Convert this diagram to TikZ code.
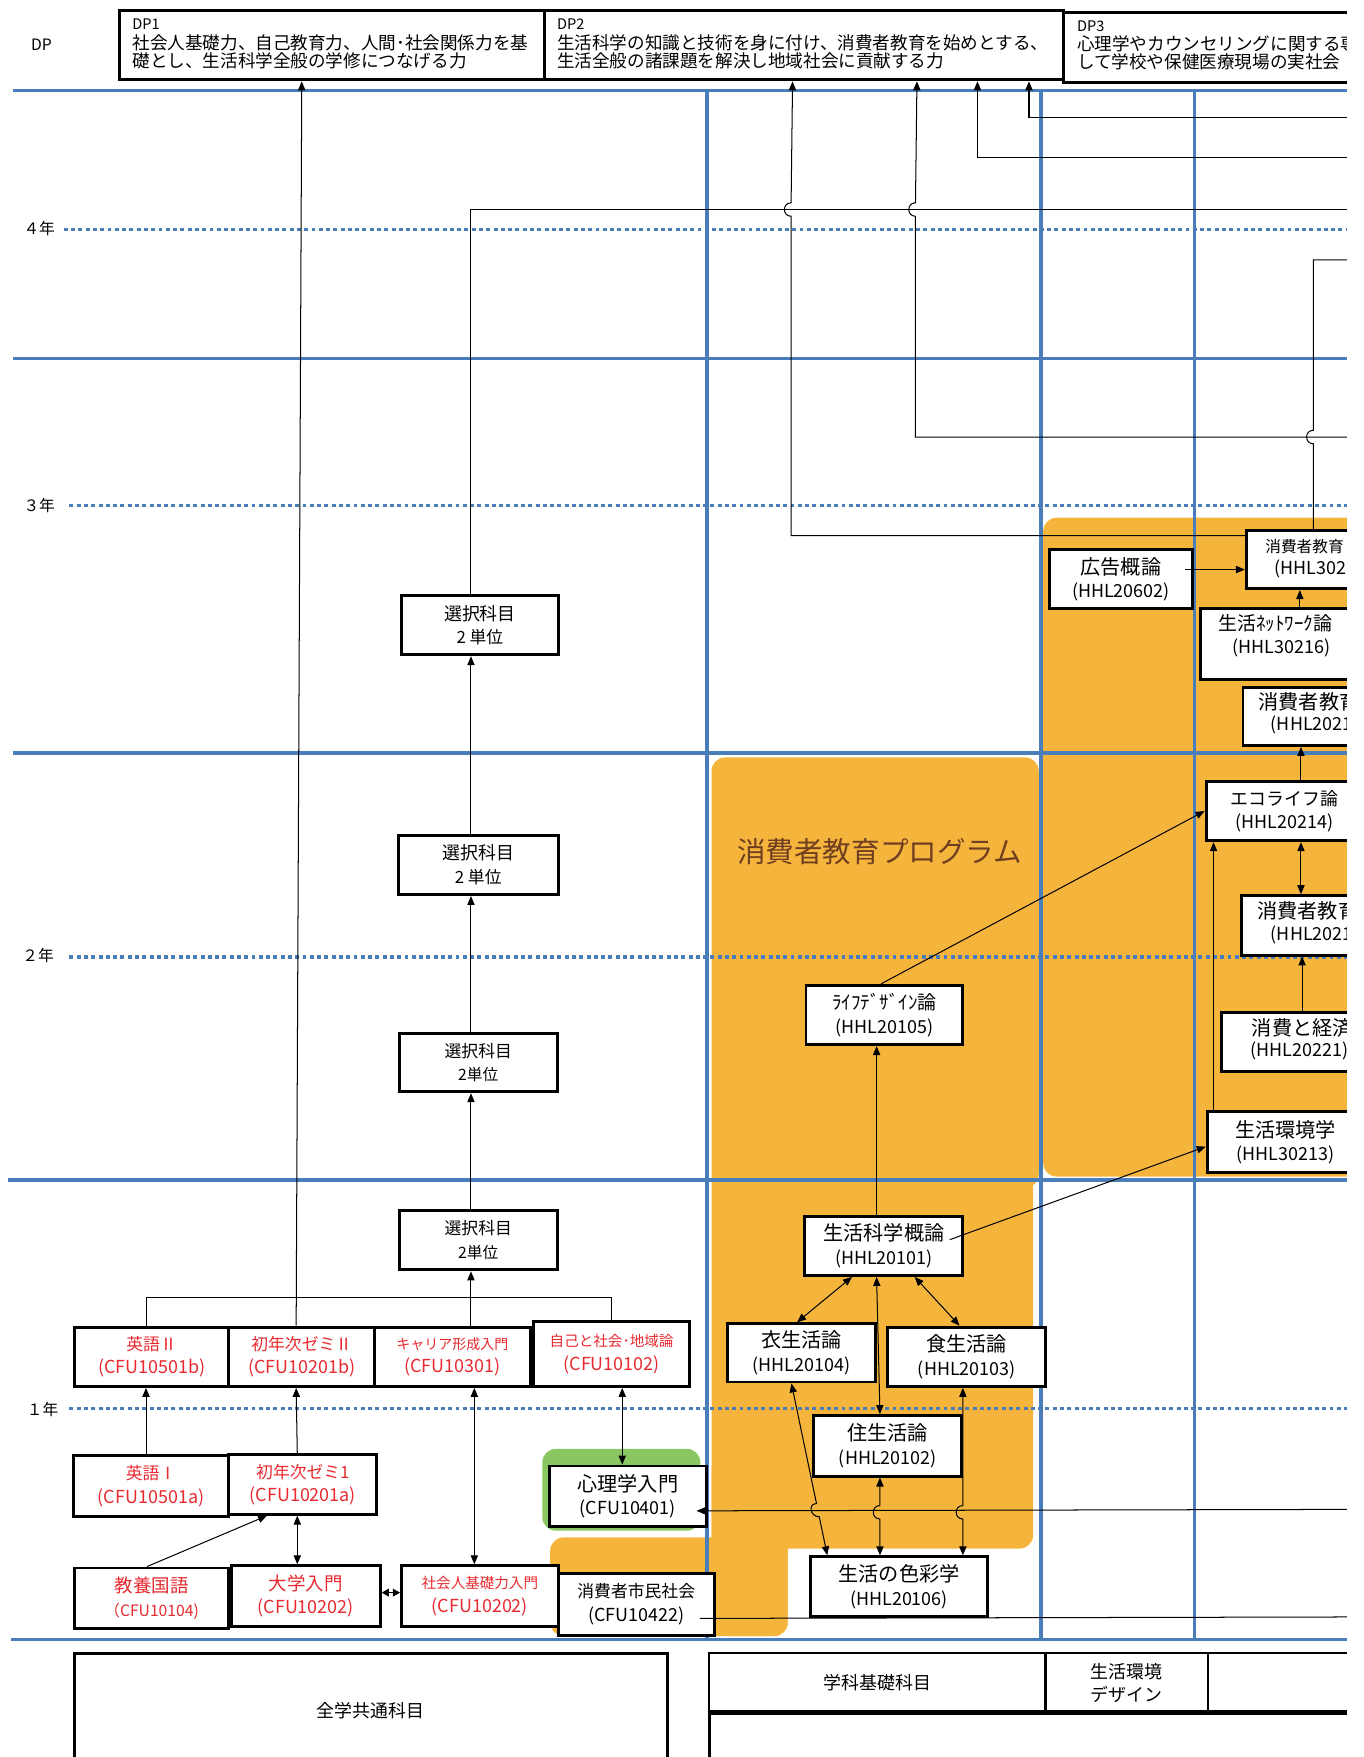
\documentclass[tikz,border=0pt]{standalone}
\usepackage{fontspec}
\setmainfont{Noto Sans CJK JP}
\usetikzlibrary{arrows.meta,calc}
\definecolor{gridblue}{RGB}{74,126,187}
\definecolor{progorange}{RGB}{245,181,61}
\definecolor{psygreen}{RGB}{138,199,98}
\definecolor{titlebrown}{RGB}{112,62,32}
\definecolor{cfured}{RGB}{232,42,48}
\newcommand{\twoline}[4]{{\fontsize{#1}{21}\selectfont #2}\\{\fontsize{#3}{21}\selectfont #4}}
\newcommand{\fsz}[1]{\fontsize{#1}{#1}\selectfont}
\begin{document}
\begin{tikzpicture}[x=1pt,y=-1pt,
  solidgrid/.style={gridblue,line width=3pt},
  dotgrid/.style={gridblue,line width=3pt,dash pattern=on 3.5pt off 3pt},
  course/.style={draw=black,line width=2.6pt,fill=white,inner sep=0pt,align=center,anchor=north west,font=\fontsize{17}{21}\selectfont},
  redc/.style={course,text=cfured},
  lbl/.style={inner sep=0pt,anchor=base west},
  conn/.style={black,line width=0.9pt},
  arr/.style={conn,-{Triangle[length=8pt,width=6.5pt]}},
  darr/.style={conn,{Triangle[length=8pt,width=6.5pt]}-{Triangle[length=8pt,width=6.5pt]}},
  shortdarr/.style={conn,{Triangle[length=6.5pt,width=7pt]}-{Triangle[length=6.5pt,width=7pt]}},
  jumparc/.style={out=180,in=180,looseness=1.7}
]
\useasboundingbox (0,0) rectangle (1217,1568);
\clip (0,0) rectangle (1202,1568);

% ---------- coloured areas ----------
\fill[progorange,rounded corners=12pt] (931,462) rectangle (1240,1050);
\fill[progorange,rounded corners=12pt] (635,676) rectangle (927,1060);
\fill[progorange,rounded corners=12pt] (635,1040) rectangle (922,1382);
\fill[progorange,rounded corners=12pt] (635,1300) rectangle (703,1460);
\fill[progorange,rounded corners=12pt] (491,1372) rectangle (703,1460);
\fill[psygreen,rounded corners=12pt] (484,1293) rectangle (625,1366);

\node[text=titlebrown,font=\fsz{25.5}] (progtitle) at (785,760) {消費者教育プログラム};

% ---------- grid ----------
\draw[solidgrid] (12,81) -- (1210,81);
\draw[solidgrid] (12,320) -- (1210,320);
\draw[solidgrid] (12,672) -- (1210,672);
\draw[solidgrid] (7,1053) -- (1210,1053);
\draw[solidgrid] (10,1463) -- (1210,1463);
\draw[dotgrid] (57,205) -- (1210,205);
\draw[dotgrid] (62,451) -- (1210,451);
\draw[dotgrid] (62,854) -- (1210,854);
\draw[dotgrid] (62,1257) -- (1210,1257);

\node[font=\fsz{14}] (dplabel) at (37,40) {DP};
\node[font=\fsz{14}] (y4) at (35,204) {４年};
\node[font=\fsz{14}] (y3) at (35,451) {３年};
\node[font=\fsz{14}] (y2) at (34,853) {２年};
\node[font=\fsz{14}] (y1) at (38,1258) {１年};

% ---------- DP boxes ----------
\node[course,minimum width=380,minimum height=62] (dp1) at (105,8) {};
\node[course,minimum width=463,minimum height=62] (dp2) at (485,8) {};
\node[course,minimum width=300,minimum height=62] (dp3) at (948,10) {};
\node[lbl,font=\fsz{13}] (dp1a) at (118,26) {DP1};
\node[lbl,font=\fsz{15.7}] (dp1b) at (118,44) {社会人基礎力、自己教育力、人間･社会関係力を基};
\node[lbl,font=\fsz{15.7}] (dp1c) at (118,60) {礎とし、生活科学全般の学修につなげる力};
\node[lbl,font=\fsz{13}] (dp2a) at (497,26) {DP2};
\node[lbl,font=\fsz{15.7}] (dp2b) at (497,44) {生活科学の知識と技術を身に付け、消費者教育を始めとする、};
\node[lbl,font=\fsz{15.7}] (dp2c) at (497,60) {生活全般の諸課題を解決し地域社会に貢献する力};
\node[lbl,font=\fsz{13}] (dp3a) at (961,28) {DP3};
\node[lbl,font=\fsz{15.7}] (dp3b) at (961,45) {心理学やカウンセリングに関する専};
\node[lbl,font=\fsz{15.7}] (dp3c) at (961,61) {して学校や保健医療現場の実社会};

% ---------- vertical grid ----------
\draw[solidgrid] (631,81) -- (631,1463);
\draw[solidgrid] (929,81) -- (929,1463);
\draw[solidgrid] (1066,81) -- (1066,1463);

% ---------- common courses ----------
\node[redc,minimum width=138,minimum height=53] (eigoB) at (65,1183) {\twoline{15}{英語Ⅱ}{16}{(CFU10501b)}};
\node[redc,minimum width=130,minimum height=53] (zemiB) at (203,1183) {\twoline{15}{初年次ゼミⅡ}{16}{(CFU10201b)}};
\node[redc,minimum width=139,minimum height=53] (career) at (333,1183) {\twoline{12.5}{キャリア形成入門}{16}{(CFU10301)}};
\node[redc,minimum width=139,minimum height=58] (jiko) at (475,1178) {\twoline{13}{自己と社会･地域論}{16}{(CFU10102)}};
\node[redc,minimum width=139,minimum height=54] (eigoA) at (64,1298) {\twoline{15}{英語Ⅰ}{16}{(CFU10501a)}};
\node[redc,minimum width=132,minimum height=53] (zemiA) at (203,1297) {\twoline{15}{初年次ゼミ1}{16}{(CFU10201a)}};
\node[redc,minimum width=138,minimum height=54] (kokugo) at (65,1398) {\twoline{16.5}{教養国語}{14}{（CFU10104)}};
\node[redc,minimum width=133,minimum height=54] (daigaku) at (205,1396) {\twoline{16.5}{大学入門}{16}{(CFU10202)}};
\node[redc,minimum width=140,minimum height=54] (shakai) at (357,1396) {\twoline{13}{社会人基礎力入門}{16}{(CFU10202)}};
\node[course,minimum width=140,minimum height=54] (shinri) at (489,1307) {\twoline{18}{心理学入門}{16}{(CFU10401)}};
\node[course,minimum width=139,minimum height=55] (shimin) at (497,1403) {\twoline{15}{消費者市民社会}{16}{(CFU10422)}};

% ---------- elective boxes ----------
\node[course,minimum width=140,minimum height=53] (s4) at (357,530) {\twoline{16}{選択科目}{15}{2 単位}};
\node[course,minimum width=143,minimum height=53] (s3) at (354,744) {\twoline{16}{選択科目}{15}{2 単位}};
\node[course,minimum width=141,minimum height=52] (s2) at (355,921) {\twoline{15}{選択科目}{14}{2単位}};
\node[course,minimum width=141,minimum height=53] (s1) at (355,1079) {\twoline{15}{選択科目}{14}{2単位}};

% ---------- department courses ----------
\node[course,minimum width=140,minimum height=53] (life) at (718,878) {\twoline{17}{ﾗｲﾌﾃﾞｻﾞｲﾝ論}{16}{(HHL20105)}};
\node[course,minimum width=141,minimum height=53] (gaikan) at (717,1084) {\twoline{18}{生活科学概論}{16}{(HHL20101)}};
\node[course,minimum width=132,minimum height=52] (koromo) at (648,1180) {\twoline{18}{衣生活論}{16}{(HHL20104)}};
\node[course,minimum width=141,minimum height=53] (shoku) at (791,1183) {\twoline{18}{食生活論}{16}{(HHL20103)}};
\node[course,minimum width=132,minimum height=54] (jyu) at (725,1262) {\twoline{18}{住生活論}{16}{(HHL20102)}};
\node[course,minimum width=158,minimum height=53] (shikisai) at (722,1388) {\twoline{18}{生活の色彩学}{16}{(HHL20106)}};

\node[course,minimum width=128,minimum height=53] (koukoku) at (935,489) {\twoline{18}{広告概論}{16}{(HHL20602)}};
\node[course,minimum width=150,minimum height=52] (kyoiku3) at (1111,472) {};
\node[lbl,font=\fsz{14}] (kyoiku3a) at (1129,493) {消費者教育};
\node[lbl,font=\fsz{16}] (kyoiku3b) at (1137,513) {(HHL302};
\node[course,minimum width=150,minimum height=63] (network) at (1070,542) {};
\node[lbl,font=\fsz{17}] (networka) at (1087,563) {生活ﾈｯﾄﾜｰｸ論};
\node[lbl,font=\fsz{16}] (networkb) at (1100,583) {(HHL30216)};
\node[course,minimum width=150,minimum height=52] (kyoikuA) at (1108,612) {};
\node[lbl,font=\fsz{18}] (kyoikuAa) at (1123,633) {消費者教育};
\node[lbl,font=\fsz{16}] (kyoikuAb) at (1134,652) {(HHL2021};
\node[course,minimum width=140,minimum height=53] (eco) at (1075,696) {\twoline{16}{エコライフ論}{16}{(HHL20214)}};
\node[course,minimum width=150,minimum height=53] (kyoikuB) at (1107,798) {};
\node[lbl,font=\fsz{18}] (kyoikuBa) at (1122,820) {消費者教育};
\node[lbl,font=\fsz{16}] (kyoikuBb) at (1134,839) {(HHL2021};
\node[course,minimum width=150,minimum height=53] (keizai) at (1089,902) {};
\node[lbl,font=\fsz{18}] (keizaia) at (1117,924) {消費と経済};
\node[lbl,font=\fsz{16}] (keizaib) at (1116,943) {(HHL20221)};
\node[course,minimum width=140,minimum height=54] (kankyo) at (1076,991) {\twoline{18}{生活環境学}{16}{(HHL30213)}};

% ---------- bottom category boxes ----------
\node[course,minimum width=620,minimum height=80] (lowerrow) at (632,1528) {};
\node[course,minimum width=529,minimum height=102,font=\fsz{16}] (zengaku) at (65,1474) {全学共通科目};
\node[course,line width=2pt,minimum width=300,minimum height=54,font=\fsz{16}] (gakka) at (632,1474) {学科基礎科目};
\node[course,line width=2pt,minimum width=145,minimum height=54,font=\fontsize{16}{21}\selectfont] (kdesign) at (932,1474) {生活環境\\デザイン};
\node[course,line width=2pt,minimum width=200,minimum height=54] (blankcat) at (1077,1474) {};
\draw[black,line width=4pt] (lowerrow.north west) -- (lowerrow.north east);

% ---------- free ends ----------
\coordinate (e105) at (1210,105);
\coordinate (e141) at (1210,141);
\coordinate (e187) at (1210,187);
\coordinate (e232) at (1210,232);
\coordinate (e390) at (1210,390);
\coordinate (e1347) at (1210,1347);
\coordinate (e1443) at (1210,1443);

% ---------- connectors: common courses ----------
\draw[arr] ([xshift=-5]zemiB.north) -- ([xshift=-27]dp1.south);
\draw[conn] ([xshift=-5]eigoB.north) -- ++(0,-25) -| (jiko.north);
\draw[arr] ([xshift=16.5]career.north) -- ([xshift=-6.5]s1.south);
\draw[arr] ([xshift=-6.5]s1.north) -- ([xshift=-6.5]s2.south);
\draw[arr] ([xshift=-6.5]s2.north) -- ([xshift=-6.5]s3.south);
\draw[arr] ([xshift=-6.5]s3.north) -- ([xshift=-8]s4.south);
\draw[conn] ([xshift=-8]s4.north) |- (e187);
\draw[darr] ([xshift=9.5]jiko.south) -- ([xshift=-5]shinri.north);
\draw[darr] ([xshift=19.5]career.south) -- ([xshift=-5]shakai.north);
\draw[shortdarr] ([yshift=3]daigaku.east) -- ([yshift=3]shakai.west);
\draw[darr] ([xshift=-5]zemiA.south) -- ([xshift=-7.5]daigaku.north);
\draw[arr] ([xshift=-4]kokugo.north) -- ([xshift=-32]zemiA.south);
\draw[arr] ([xshift=-4.5]eigoA.north) -- ([xshift=-5]eigoB.south);
\draw[arr] ([xshift=-5]zemiA.north) -- ([xshift=-5]zemiB.south);

% ---------- connectors to DP2 ----------
\draw[arr] ([yshift=-6]kyoiku3.north west) -| (706,193) to[jumparc] (706,181) -- ([xshift=-10.5]dp2.south);
\draw[arr] (e390) -| (817,193) to[jumparc] (817,181) -- ([xshift=100.5]dp2.south);
\draw[arr] (e141) -| ([xshift=154.5]dp2.south);
\draw[arr] (e105) -| ([xshift=200.5]dp2.south);
\draw[conn] ([xshift=61]kyoiku3.north west) -- (1172,396) to[jumparc] (1172,384) -- (1172,232) -- (e232);

% ---------- connectors: program ----------
\coordinate (kk) at ([xshift=-8,yshift=8.5]koukoku.east);
\draw[arr] (kk) -- (kk -| kyoiku3.west);
\draw[arr] ([xshift=90]network.north west) -- ([xshift=49]kyoiku3.south west);
\draw[arr] ([xshift=86]eco.north west) -- ([xshift=53]kyoikuA.south west);
\draw[darr] ([xshift=86]eco.south west) -- ([xshift=54]kyoikuB.north west);
\draw[arr] ([xshift=73]keizai.north west) -- ([xshift=55]kyoikuB.south west);
\draw[arr] ([xshift=7]kankyo.north west) -- ([xshift=8]eco.south west);
\draw[arr] ([xshift=-3]life.north) -- (eco.west);
\draw[arr] ([xshift=-13,yshift=5.5]gaikan.east) -- ([yshift=-4]kankyo.west);
\draw[arr] ([xshift=-6.5]gaikan.north) -- ([xshift=-7]life.south);
\draw[darr] ([xshift=-28.5]gaikan.south) -- ([xshift=-4]koromo.north);
\draw[darr] ([xshift=-6.5]gaikan.south) -- ([xshift=-7]jyu.north);
\draw[darr] ([xshift=27.5]gaikan.south) -- ([xshift=-6.5]shoku.north);

\coordinate (ka) at ([xshift=-9]koromo.south);
\coordinate (kb) at ([xshift=-64]shikisai.north);
\draw[darr] (ka) -- ($(ka)!0.699!(kb)$) to[jumparc] ($(ka)!0.776!(kb)$) -- (kb);
\draw[darr] ([xshift=-7]jyu.south) -- ++(0,25) to[jumparc] ++(0,12) -- ([xshift=-17]shikisai.north);
\draw[darr] ([xshift=-3.5]shoku.south) -- ++(0,105) to[jumparc] ++(0,12) -- ([xshift=57]shikisai.north);

\draw[arr] (e1347) -- ([xshift=-10,yshift=-13]shinri.east);
\draw[conn] ([xshift=-14,yshift=-12.5]shimin.east) -- (e1443);
\end{tikzpicture}
\end{document}
